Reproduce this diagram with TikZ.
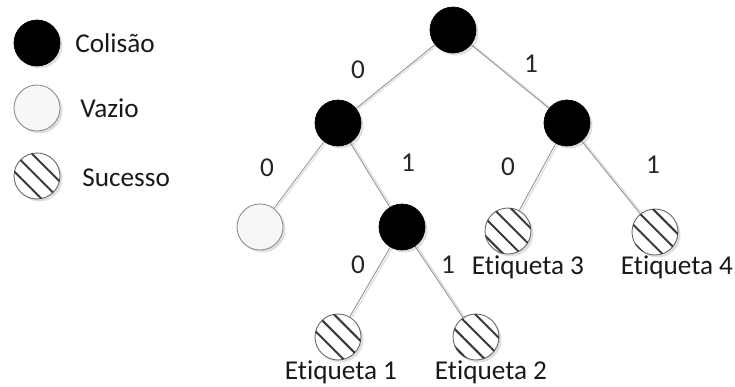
\documentclass[tikz,border=0pt]{standalone}
\usepackage{fontspec}
\setmainfont{Carlito}[Ligatures=NoCommon]
\usetikzlibrary{shadows,patterns.meta,backgrounds}
\tikzset{
  no/.style={circle, inner sep=0pt, minimum size=9.2mm,
    drop shadow={shadow xshift=0.5mm, shadow yshift=-0.5mm, opacity=0.25}},
  colisao/.style={no, draw=black, fill=black},
  vazio/.style={no, draw=gray!90, fill=gray!6, line width=0.5pt},
  sucesso/.style={no, draw=gray!80!black, line width=0.5pt, fill=white,
    postaction={pattern={Lines[angle=-45, distance=2.5mm, line width=0.4mm]}, pattern color=gray!45!black}},
  ramo/.style={draw=gray!85, line width=0.5pt,
    preaction={draw=gray!22, line width=0.9pt, transform canvas={shift={(0.45mm,-0.1mm)}}}},
  bit/.style={font=\fontsize{15.5}{18}\selectfont, text=black!85},
  rotulo/.style={font=\fontsize{15.5}{18}\selectfont, text=black!90, inner sep=0pt}
}
\begin{document}
\begin{tikzpicture}[x=0.2mm, y=-0.2mm]
\useasboundingbox (0,0) rectangle (735,387);
% legenda
\node [colisao] (lc) at (37,43) {};
\node [vazio] (lv) at (37,108) {};
\node [sucesso] (ls) at (37,176) {};
\node [rotulo, anchor=west] (tc) at (75,43) {Colisão};
\node [rotulo, anchor=west] (tv) at (80,108) {Vazio};
\node [rotulo, anchor=west] (ts) at (82,178) {Sucesso};
% arvore
\node [colisao] (r) at (453,30) {};
\node [colisao] (n0) at (338,123) {};
\node [colisao] (n1) at (567,123) {};
\node [vazio] (n00) at (260,227) {};
\node [colisao] (n01) at (402,227) {};
\node [sucesso] (n10) at (508,231) {};
\node [sucesso] (n11) at (655,232) {};
\node [sucesso] (n010) at (338,337) {};
\node [sucesso] (n011) at (476,337) {};
\begin{scope}[on background layer]
\draw [ramo] (r)--(n0);
\draw [ramo] (r)--(n1);
\draw [ramo] (n0)--(n00);
\draw [ramo] (n0)--(n01);
\draw [ramo] (n1)--(n10);
\draw [ramo] (n1)--(n11);
\draw [ramo] (n01)--(n010);
\draw [ramo] (n01)--(n011);
\end{scope}
% bits
\node [bit] (b0) at (358,70) {0};
\node [bit] (b1) at (531,64) {1};
\node [bit] (b00) at (267,168) {0};
\node [bit] (b01) at (408,163) {1};
\node [bit] (b10) at (508,167) {0};
\node [bit] (b11) at (653,165) {1};
\node [bit] (b010) at (358,265) {0};
\node [bit] (b011) at (448,265) {1};
% etiquetas
\node [rotulo] (e1) at (341,372) {Etiqueta 1};
\node [rotulo] (e2) at (491,372) {Etiqueta 2};
\node [rotulo] (e3) at (528,267) {Etiqueta 3};
\node [rotulo] (e4) at (677,267) {Etiqueta 4};
\end{tikzpicture}
\end{document}
